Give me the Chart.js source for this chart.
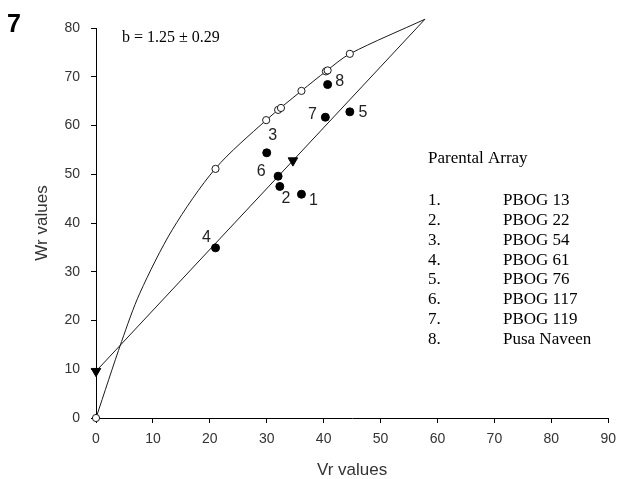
<!DOCTYPE html>
<html>
<head>
<meta charset="utf-8">
<script src="https://cdn.jsdelivr.net/npm/chart.js@4.4.1/dist/chart.umd.min.js"></script>
<style>
  html, body { margin: 0; padding: 0; background: #fff; }
  #wrap { width: 624px; height: 479px; }
</style>
</head>
<body>
<div id="wrap"><canvas id="chart" width="624" height="479"></canvas></div>
<script>
// --- data ------------------------------------------------------------------
const X_TICKS = [0, 10, 20, 30, 40, 50, 60, 70, 80, 90];
const Y_TICKS = [0, 10, 20, 30, 40, 50, 60, 70, 80];

// limiting curve (traced)
const CURVE_VR = [0, 4.5, 7.7, 13.4, 21.0, 29.9, 36.1, 40.5, 44.6, 57.8];
const CURVE_WR = [0, 15.7, 25.6, 38.6, 51.2, 61.1, 67.1, 71.2, 74.7, 81.8];

// open circles on the curve
const OPEN_VR = [0, 21.0, 29.9, 32.0, 32.5, 36.1, 40.4, 40.7, 44.6];
const OPEN_WR = [0, 51.1, 61.1, 63.2, 63.6, 67.1, 71.1, 71.3, 74.7];

// regression line + its triangle markers
const REG_VR = [0, 34.6, 57.8];
const REG_WR = [9.6, 52.8, 81.8];
const TRI_VR = [0, 34.6];
const TRI_WR = [9.6, 52.8];

// parents 1..8
const PARENT_NO = ['1', '2', '3', '4', '5', '6', '7', '8'];
const PARENT_NAMES = ['PBOG 13', 'PBOG 22', 'PBOG 54', 'PBOG 61', 'PBOG 76', 'PBOG 117', 'PBOG 119', 'Pusa Naveen'];
const PARENT_VR = [36.1, 32.3, 30.0, 21.0, 44.6, 32.0, 40.3, 40.7];
const PARENT_WR = [45.9, 47.5, 54.4, 34.9, 62.8, 49.6, 61.7, 68.4];

const SLOPE_TEXT = 'b = 1.25 \u00b1 0.29';

// label offsets (px) from each parent dot
const LABEL_OFF = [[12, 6], [6, 12], [6, -17], [-9, -10], [13, 1], [-17, -5], [-13, -3], [12, -3]];

const pts = (xs, ys) => xs.map((x, i) => ({ x, y: ys[i] }));
const INK = '#1a1a1a';

// parent number labels next to dots
const pointLabels = {
  id: 'pointLabels',
  afterDatasetsDraw(chart) {
    const meta = chart.getDatasetMeta(0);
    const ctx = chart.ctx;
    ctx.save();
    ctx.font = '16px "Liberation Sans", Arial, sans-serif';
    ctx.fillStyle = '#222';
    ctx.textAlign = 'center';
    ctx.textBaseline = 'middle';
    meta.data.forEach((p, i) => {
      ctx.fillText(PARENT_NO[i], p.x + LABEL_OFF[i][0], p.y + LABEL_OFF[i][1]);
    });
    ctx.restore();
  },
};

// panel number, slope text and the parental array list
const annotations = {
  id: 'annotations',
  afterDraw(chart) {
    const ctx = chart.ctx;
    ctx.save();
    ctx.fillStyle = '#000';
    ctx.textBaseline = 'alphabetic';
    ctx.textAlign = 'left';
    ctx.font = 'bold 25px "Liberation Sans", Arial, sans-serif';
    ctx.fillText('7', 7, 32);
    ctx.font = '16px "Liberation Serif", "Times New Roman", serif';
    ctx.fillText(SLOPE_TEXT, 122, 41.5);
    ctx.font = '17px "Liberation Serif", "Times New Roman", serif';
    ctx.fillText('Parental Array', 428, 163);
    PARENT_NAMES.forEach((nm, i) => {
      const y = 205 + i * 19.85;
      ctx.fillText(PARENT_NO[i] + '.', 428, y);
      ctx.fillText(nm, 503, y);
    });
    ctx.restore();
  },
};

const tickFont = { family: '"Liberation Sans", Arial, sans-serif', size: 14 };
const titleFont = { family: '"Liberation Sans", Arial, sans-serif', size: 17, lineHeight: 1 };

new Chart(document.getElementById('chart'), {
  type: 'scatter',
  data: {
    datasets: [
      {
        label: 'parents', data: pts(PARENT_VR, PARENT_WR),
        pointStyle: 'circle', pointRadius: 4, backgroundColor: '#000', borderColor: '#000', borderWidth: 1,
      },
      {
        label: 'array', data: pts(OPEN_VR, OPEN_WR),
        pointStyle: 'circle', pointRadius: 3.6, backgroundColor: '#fff', borderColor: INK, borderWidth: 1,
        clip: false,
      },
      {
        label: 'tri', data: pts(TRI_VR, TRI_WR),
        pointStyle: 'triangle', pointRotation: 180, pointRadius: 5.5, backgroundColor: '#000', borderColor: '#000', borderWidth: 1,
        clip: false,
      },
      {
        label: 'regression', data: pts(REG_VR, REG_WR), showLine: true,
        pointRadius: 0, borderColor: INK, borderWidth: 1, clip: false,
      },
      {
        label: 'curve', data: pts(CURVE_VR, CURVE_WR), showLine: true, tension: 0.3,
        pointRadius: 0, borderColor: INK, borderWidth: 1, clip: false,
      },
    ],
  },
  options: {
    responsive: false, animation: false, events: [],
    layout: { padding: { top: 28, right: 10, bottom: 0, left: 0 } },
    plugins: { legend: { display: false }, tooltip: { enabled: false } },
    scales: {
      x: {
        type: 'linear', min: 0, max: 90,
        afterBuildTicks: (s) => { s.ticks = X_TICKS.map((v) => ({ value: v })); },
        afterFit: (s) => { s.height = 61; },
        ticks: { color: '#333', font: tickFont, padding: 8, maxRotation: 0 },
        grid: { drawOnChartArea: false, drawTicks: true, tickLength: 5, tickColor: '#000' },
        border: { display: true, color: '#000', width: 1 },
        title: { display: true, text: 'Vr values', color: '#333', font: titleFont, padding: { top: 0, bottom: 0 } },
      },
      y: {
        type: 'linear', min: 0, max: 80,
        afterBuildTicks: (s) => { s.ticks = Y_TICKS.map((v) => ({ value: v })); },
        afterFit: (s) => { s.width = 96; },
        ticks: { color: '#333', font: tickFont, padding: 11 },
        grid: { drawOnChartArea: false, drawTicks: true, tickLength: 5, tickColor: '#000' },
        border: { display: true, color: '#000', width: 1 },
        title: { display: true, text: 'Wr values', color: '#333', font: titleFont, padding: { top: 34, bottom: 0 } },
      },
    },
  },
  plugins: [pointLabels, annotations],
});
</script>
</body>
</html>
